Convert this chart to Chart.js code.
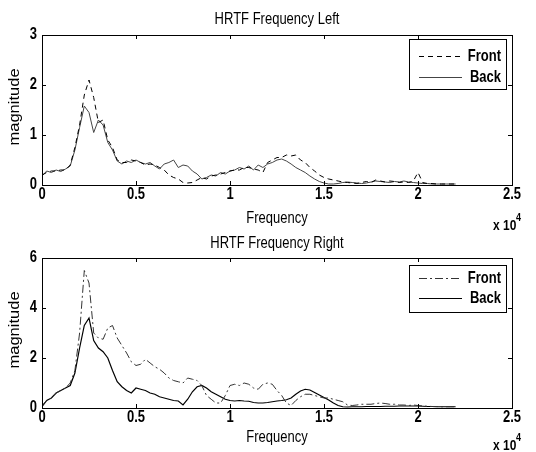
<!DOCTYPE html>
<html>
<head>
<meta charset="utf-8">
<script src="https://cdn.jsdelivr.net/npm/chart.js@4"></script>
<style>
  body { margin:0; background:#fff; }
  canvas { position:absolute; left:0; top:0; }
</style>
</head>
<body>
<canvas id="leftCanvas" width="536" height="452"></canvas>
<canvas id="rightCanvas" width="536" height="452"></canvas>
<script>
// frequency bins (Hz)
var freqHz = [0,250,500,750,1000,1250,1500,1750,2000,2250,2500,2750,3000,3250,3500,3750,4000,4250,4500,4750,
  5000,5250,5500,5750,6000,6250,6500,6750,7000,7250,7500,7750,8000,8250,8500,8750,9000,9250,9500,9750,
  10000,10250,10500,10750,11000,11250,11500,11750,12000,12250,12500,12750,13000,13250,13500,13750,14000,14250,14500,14750,
  15000,15250,15500,15750,16000,16250,16500,16750,17000,17250,17500,17750,18000,18250,18500,18750,19000,19250,19500,19750,
  20000,20250,20500,20750,21000,21250,21500,21750,22000];

var leftFront = [0.2,0.25,0.28,0.28,0.3,0.3,0.4,0.75,1.2,1.8,2.1,1.75,1.25,1.3,0.9,0.75,0.5,0.45,0.45,0.5,
  0.48,0.45,0.4,0.42,0.4,0.35,0.3,0.2,0.15,0.12,0.05,0.04,0.05,0.1,0.15,0.12,0.18,0.2,0.22,0.25,
  0.28,0.3,0.3,0.35,0.35,0.32,0.3,0.25,0.45,0.5,0.55,0.55,0.6,0.58,0.6,0.5,0.45,0.35,0.28,0.2,
  0.15,0.12,0.1,0.08,0.06,0.05,0.04,0.03,0.05,0.07,0.05,0.1,0.08,0.06,0.08,0.07,0.05,0.06,0.05,0.08,
  0.25,0.05,0.03,0.03,0.02,0.02,0.02,0.02,0.02];
var leftBack = [0.18,0.28,0.25,0.3,0.27,0.32,0.38,0.7,1.15,1.58,1.45,1.05,1.3,1.2,0.85,0.7,0.48,0.42,0.48,0.45,
  0.5,0.45,0.42,0.45,0.38,0.32,0.42,0.45,0.5,0.35,0.4,0.38,0.28,0.22,0.12,0.15,0.2,0.18,0.25,0.22,
  0.28,0.3,0.35,0.32,0.38,0.3,0.4,0.35,0.42,0.45,0.5,0.52,0.48,0.42,0.35,0.3,0.25,0.18,0.12,0.07,
  0.04,0.02,0.02,0.03,0.05,0.06,0.05,0.04,0.03,0.04,0.06,0.08,0.07,0.06,0.05,0.07,0.06,0.08,0.06,0.05,
  0.04,0.03,0.03,0.02,0.02,0.02,0.02,0.02,0.02];

var rightFront = [0.1,0.3,0.4,0.6,0.7,0.8,1.0,1.5,3.0,5.5,5.0,3.0,2.8,2.75,3.2,3.3,2.8,2.5,2.2,1.85,
  1.7,1.75,1.95,1.8,1.65,1.55,1.4,1.2,1.1,1.05,1.0,1.2,1.15,1.1,0.9,0.5,0.35,0.2,0.2,0.5,
  0.9,0.95,0.9,1.0,0.95,0.8,0.75,0.95,1.0,0.95,0.7,0.5,0.2,0.1,0.3,0.45,0.55,0.55,0.5,0.45,
  0.4,0.4,0.35,0.3,0.25,0.12,0.1,0.12,0.15,0.15,0.15,0.18,0.2,0.18,0.15,0.15,0.12,0.12,0.1,0.12,
  0.1,0.08,0.07,0.06,0.06,0.05,0.05,0.05,0.05];
var rightBack = [0.05,0.3,0.4,0.6,0.7,0.8,0.9,1.4,2.4,3.3,3.6,2.7,2.4,2.25,2.0,1.5,1.05,0.85,0.7,0.6,
  0.8,0.75,0.7,0.6,0.55,0.45,0.4,0.35,0.3,0.28,0.12,0.35,0.65,0.85,0.9,0.8,0.65,0.55,0.45,0.35,
  0.3,0.28,0.3,0.28,0.27,0.22,0.2,0.2,0.22,0.25,0.28,0.3,0.33,0.4,0.55,0.68,0.75,0.72,0.62,0.52,
  0.42,0.32,0.2,0.1,0.05,0.04,0.05,0.05,0.05,0.06,0.06,0.06,0.06,0.07,0.07,0.07,0.08,0.08,0.08,0.08,
  0.08,0.07,0.06,0.06,0.05,0.05,0.05,0.05,0.05];

var xTicks = [0,5000,10000,15000,20000,25000];
var seriesNames = ['Front','Back'];

var FONT = 'Liberation Sans, Arial, sans-serif';
var STRETCH = 1.28; // the scanned figure is taller than wide

function pts(vals) {
  return freqHz.map(function(f, i) { return {x: f, y: vals[i]}; });
}

function txt(ctx, s, x, y, font, align, sx, sy, rot) {
  ctx.save();
  ctx.translate(x, y);
  if (rot) ctx.rotate(rot);
  ctx.scale(sx, sy);
  ctx.font = font;
  ctx.textAlign = align;
  ctx.textBaseline = 'middle';
  ctx.fillStyle = '#000';
  ctx.fillText(s, 0, 0);
  ctx.restore();
}

// MATLAB style box, inward ticks, labels, legend, title and exponent
var matlabFrame = {
  id: 'matlabFrame',
  afterDatasetsDraw: function(chart, args, opts) {
    var ctx = chart.ctx, a = chart.chartArea;
    var xs = chart.scales.x, ys = chart.scales.y;
    ctx.save();
    ctx.strokeStyle = '#000';
    ctx.lineWidth = 1;
    ctx.strokeRect(Math.round(a.left) + 0.5, Math.round(a.top) + 0.5,
      Math.round(a.right - a.left), Math.round(a.bottom - a.top));
    ctx.beginPath();
    xs.ticks.forEach(function(t) {
      var px = Math.round(xs.getPixelForValue(t.value)) + 0.5;
      ctx.moveTo(px, a.bottom); ctx.lineTo(px, a.bottom - 4);
      ctx.moveTo(px, a.top); ctx.lineTo(px, a.top + 4);
    });
    ys.ticks.forEach(function(t) {
      var py = Math.round(ys.getPixelForValue(t.value)) + 0.5;
      ctx.moveTo(a.left, py); ctx.lineTo(a.left + 4, py);
      ctx.moveTo(a.right, py); ctx.lineTo(a.right - 4, py);
    });
    ctx.stroke();

    var bold = 'bold 13px ' + FONT;
    xs.ticks.forEach(function(t) {
      txt(ctx, String(t.value / 10000), xs.getPixelForValue(t.value), a.bottom + 9, bold, 'center', 1, STRETCH);
    });
    ys.ticks.forEach(function(t) {
      txt(ctx, String(t.value), 37, ys.getPixelForValue(t.value) - 1, bold, 'right', 1, STRETCH);
    });

    txt(ctx, opts.title, (a.left + a.right) / 2, opts.titleY, '13px ' + FONT, 'center', 1, STRETCH);
    txt(ctx, 'Frequency', (a.left + a.right) / 2, opts.xTitleY, '13px ' + FONT, 'center', 1, STRETCH);
    txt(ctx, 'magnitude', 15, (a.top + a.bottom) / 2 - 3, '14px ' + FONT, 'center', 1.18, 1, -Math.PI / 2);
    txt(ctx, 'x 10', 493, opts.expY, 'bold 12px ' + FONT, 'left', 1, STRETCH);
    txt(ctx, '4', 516, opts.expY - 8, 'bold 9px ' + FONT, 'left', 1, STRETCH);

    // legend
    var lx = 409, ly = opts.legTop, lw = 97, lh = opts.legH;
    ctx.fillStyle = '#fff';
    ctx.fillRect(lx, ly, lw, lh);
    ctx.strokeStyle = '#000';
    ctx.strokeRect(lx + 0.5, ly + 0.5, lw, lh);
    chart.data.datasets.forEach(function(ds, i) {
      var yy = opts.rows[i];
      ctx.beginPath();
      ctx.strokeStyle = ds.borderColor;
      ctx.lineWidth = ds.borderWidth;
      ctx.setLineDash(ds.borderDash || []);
      ctx.moveTo(419, yy + 0.5); ctx.lineTo(462, yy + 0.5);
      ctx.stroke();
      ctx.setLineDash([]);
      txt(ctx, ds.label, 501, yy, bold, 'right', 1, STRETCH);
    });
    ctx.restore();
  }
};

function makeChart(canvas, cfg) {
  //eslint-disable-next-line no-undef
  return new Chart(canvas.getContext('2d'), {
    type: 'line',
    data: {
      datasets: [
        {label: seriesNames[0], data: pts(cfg.front), borderColor: cfg.frontColor, borderWidth: 1,
         borderDash: cfg.frontDash, pointRadius: 0, tension: 0, fill: false},
        {label: seriesNames[1], data: pts(cfg.back), borderColor: cfg.backColor, borderWidth: cfg.backWidth,
         pointRadius: 0, tension: 0, fill: false}
      ]
    },
    options: {
      responsive: false,
      animation: false,
      events: [],
      layout: {padding: {left: 0, right: 24, top: cfg.top, bottom: cfg.padBottom}},
      plugins: {
        legend: {display: false},
        tooltip: {enabled: false},
        title: {display: false},
        matlabFrame: cfg.frame
      },
      scales: {
        x: {
          type: 'linear', min: 0, max: 25000,
          afterBuildTicks: function(s) { s.ticks = xTicks.map(function(v) { return {value: v}; }); },
          afterFit: function(s) { s.height = cfg.xHeight; },
          grid: {display: false, drawTicks: false},
          border: {display: false},
          ticks: {display: false}
        },
        y: {
          min: 0, max: cfg.yMax,
          afterFit: function(s) { s.width = 42; },
          grid: {display: false, drawTicks: false},
          border: {display: false},
          ticks: {display: false, stepSize: cfg.yStep}
        }
      }
    },
    plugins: [matlabFrame]
  });
}

makeChart(document.getElementById('leftCanvas'), {
  front: leftFront, back: leftBack,
  frontColor: '#000', frontDash: [5, 4], backColor: '#444', backWidth: 1,
  top: 35, padBottom: 216, xHeight: 51, yMax: 3, yStep: 1,
  frame: {title: 'HRTF Frequency Left', titleY: 19, xTitleY: 218, expY: 226, legTop: 39, legH: 50, rows: [56, 77]}
});

makeChart(document.getElementById('rightCanvas'), {
  front: rightFront, back: rightBack,
  frontColor: '#333', frontDash: [8, 3, 2, 3], backColor: '#000', backWidth: 1.2,
  top: 258, padBottom: 0, xHeight: 44, yMax: 6, yStep: 2,
  frame: {title: 'HRTF Frequency Right', titleY: 243, xTitleY: 437, expY: 446, legTop: 265, legH: 47, rows: [278, 298]}
});
</script>
</body>
</html>
